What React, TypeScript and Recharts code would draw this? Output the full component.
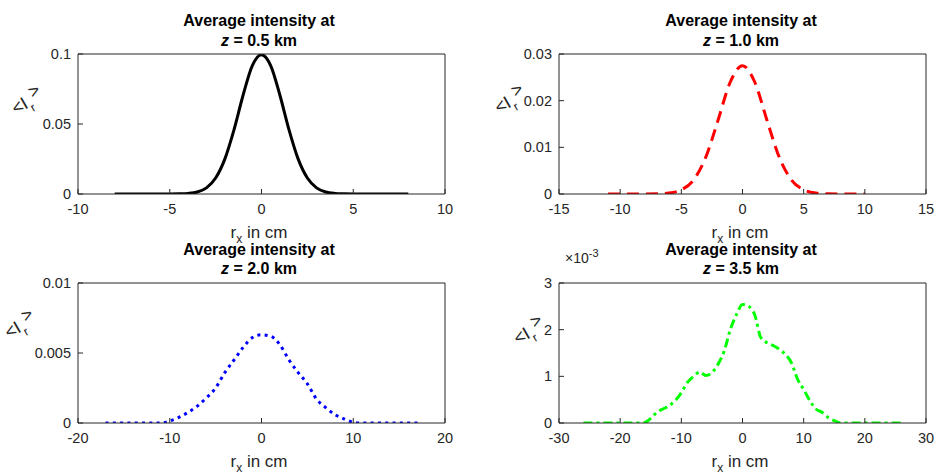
import { LineChart, Line, XAxis, YAxis } from 'recharts'

// panel 1: z = 0.5 km
const x1 = [-8, -7.5, -7, -6.5, -6, -5.5, -5, -4.5, -4, -3.5, -3, -2.5, -2, -1.5, -1, -0.5, 0, 0.5, 1, 1.5, 2, 2.5, 3, 3.5, 4, 4.5, 5, 5.5, 6, 6.5, 7, 7.5, 8]
const y1 = [0, 0, 0, 0, 0, 0, 0, 0.0001, 0.0004, 0.0014, 0.0044, 0.0114, 0.0249, 0.0458, 0.0707, 0.0917, 0.0995, 0.0917, 0.0707, 0.0458, 0.0249, 0.0114, 0.0044, 0.0014, 0.0004, 0.0001, 0, 0, 0, 0, 0, 0, 0]

// panel 2: z = 1.0 km
const x2 = [-11, -10, -9, -8, -7, -6, -5, -4, -3, -2, -1, 0, 1, 2, 3, 4, 5, 6, 7, 8, 9, 10]
const y2 = [0, 0, 0, 0, 0.00003, 0.0002, 0.0009, 0.003, 0.0079, 0.0158, 0.024, 0.0275, 0.024, 0.0158, 0.0079, 0.003, 0.0009, 0.0002, 0.00003, 0, 0, 0]

// panel 3: z = 2.0 km
const x3 = [-17, -16, -15, -14, -13, -12, -11, -10, -9, -8, -7, -6, -5, -4, -3, -2, -1, 0, 1, 2, 3, 4, 5, 6, 7, 8, 9, 10, 11, 12, 13, 14, 15, 16, 17]
const y3 = [0, 0, 0, 0, 0, 0, 0, 0.00015, 0.0004, 0.00076, 0.0012, 0.0018, 0.0025, 0.0036, 0.0045, 0.0054, 0.0061, 0.0063, 0.0062, 0.0056, 0.0045, 0.0036, 0.0028, 0.0017, 0.0011, 0.0006, 0.0003, 0.00005, 0, 0, 0, 0, 0, 0, 0]

// panel 4: z = 3.5 km (values in units of 1e-3)
const x4 = [-26, -25, -24, -23, -22, -21, -20, -19, -18, -17, -16, -15, -14, -13, -12, -11, -10, -9, -8, -7, -6, -5, -4, -3, -2, -1, 0, 1, 2, 3, 4, 5, 6, 7, 8, 9, 10, 11, 12, 13, 14, 15, 16, 17, 18, 19, 20, 21, 22, 23, 24, 25, 26]
const y4 = [0, 0, 0, 0, 0, 0, 0, 0, 0, 0, 0.01, 0.1, 0.23, 0.3, 0.37, 0.48, 0.65, 0.87, 1.0, 1.09, 1.02, 1.08, 1.26, 1.54, 2.0, 2.32, 2.54, 2.5, 2.32, 1.83, 1.72, 1.66, 1.58, 1.47, 1.29, 0.94, 0.72, 0.48, 0.3, 0.23, 0.12, 0.05, 0, 0, 0, 0, 0, 0, 0, 0, 0, 0, 0]

const ticksX1 = [-10, -5, 0, 5, 10]
const ticksX2 = [-15, -10, -5, 0, 5, 10, 15]
const ticksX3 = [-20, -10, 0, 10, 20]
const ticksX4 = [-30, -20, -10, 0, 10, 20, 30]
const ticksY1 = [0, 0.05, 0.1]
const ticksY2 = [0, 0.01, 0.02, 0.03]
const ticksY3 = [0, 0.005, 0.01]
const ticksY4 = [0, 1, 2, 3]

const FONT = '"Liberation Sans", Arial, sans-serif'
const AX = '#262626'

const zip = (xs: number[], ys: number[]) => xs.map((x, i) => ({ x, y: ys[i] }))

interface PanelProps {
    data: { x: number; y: number }[]
    ticksX: number[]
    ticksY: number[]
    color: string
    dash?: string
    left: number
    top: number
    margin: { top: number; left: number; right: number; bottom: number }
}

const Panel = ({ data, ticksX, ticksY, color, dash, left, top, margin }: PanelProps) => {
    const dx: [number, number] = [ticksX[0], ticksX[ticksX.length - 1]]
    const dy: [number, number] = [ticksY[0], ticksY[ticksY.length - 1]]
    const tickStyle = { fill: AX, fontSize: 14.5, fontFamily: FONT }
    return (
        <div style={{ position: 'absolute', left, top }}>
            <LineChart width={468} height={238} data={data} margin={margin}>
                <XAxis
                    dataKey="x"
                    type="number"
                    domain={dx}
                    ticks={ticksX}
                    interval={0}
                    allowDataOverflow
                    height={44}
                    tickSize={-5}
                    tickMargin={15}
                    tick={tickStyle}
                    stroke={AX}
                />
                <XAxis
                    xAxisId="top"
                    orientation="top"
                    dataKey="x"
                    type="number"
                    domain={dx}
                    ticks={ticksX}
                    interval={0}
                    allowDataOverflow
                    height={1}
                    tickSize={-5}
                    tick={false}
                    stroke={AX}
                />
                <YAxis
                    type="number"
                    domain={dy}
                    ticks={ticksY}
                    interval={0}
                    allowDataOverflow
                    width={60}
                    tickSize={-5}
                    tickMargin={12}
                    tick={tickStyle}
                    stroke={AX}
                />
                <YAxis
                    yAxisId="right"
                    orientation="right"
                    type="number"
                    domain={dy}
                    ticks={ticksY}
                    interval={0}
                    allowDataOverflow
                    width={1}
                    tickSize={-5}
                    tick={false}
                    stroke={AX}
                />
                <Line
                    type="monotone"
                    dataKey="y"
                    stroke={color}
                    strokeWidth={3}
                    strokeDasharray={dash}
                    dot={false}
                    activeDot={false}
                    isAnimationActive={false}
                />
            </LineChart>
        </div>
    )
}

const Title = ({ cx, y, z }: { cx: number; y: number; z: string }) => (
    <g fontFamily={FONT} fontSize={16} fontWeight="bold" textAnchor="middle" fill="#000">
        <text x={cx} y={y}>Average intensity at</text>
        <text x={cx} y={y + 19.5}>
            <tspan fontStyle="italic">z</tspan> = {z} km
        </text>
    </g>
)

const XLabel = ({ cx, y }: { cx: number; y: number }) => (
    <text x={cx} y={y} fontFamily={FONT} fontSize={17} fill={AX} textAnchor="middle">
        r<tspan fontSize={12} dy={5}>x</tspan>
        <tspan dy={-5}> in cm</tspan>
    </text>
)

// the rotated <I_r> label, tilted as in the reference
const YLabel = ({ x, y }: { x: number; y: number }) => (
    <text transform={`translate(${x},${y}) rotate(-30)`} fontFamily={FONT} fontSize={18} fill={AX}>
        &lt;I<tspan fontSize={12} dy={6} dx={1}>r</tspan>
        <tspan dy={-12} dx={2}>&gt;</tspan>
    </text>
)

export default function App() {
    return (
        <div style={{ position: 'absolute', left: 0, top: 0, width: 937, height: 476, background: '#fff' }}>
            <Panel data={zip(x1, y1)} ticksX={ticksX1} ticksY={ticksY1} color="#000000" left={0} top={0}
                margin={{ top: 53, left: 18, right: 22, bottom: 0 }} />
            <Panel data={zip(x2, y2)} ticksX={ticksX2} ticksY={ticksY2} color="#ff0000" dash="12 7" left={469} top={0}
                margin={{ top: 53, left: 30, right: 10, bottom: 0 }} />
            <Panel data={zip(x3, y3)} ticksX={ticksX3} ticksY={ticksY3} color="#0000ff" dash="3 4.3" left={0} top={238}
                margin={{ top: 44, left: 18, right: 22, bottom: 9 }} />
            <Panel data={zip(x4, y4)} ticksX={ticksX4} ticksY={ticksY4} color="#00ff00" dash="9 4 3 4" left={469} top={238}
                margin={{ top: 44, left: 30, right: 10, bottom: 9 }} />
            <svg width={937} height={476} style={{ position: 'absolute', left: 0, top: 0, pointerEvents: 'none' }}>
                <Title cx={259} y={26} z="0.5" />
                <Title cx={741} y={26} z="1.0" />
                <Title cx={259} y={254.5} z="2.0" />
                <Title cx={741} y={254.5} z="3.5" />
                <XLabel cx={259} y={237.5} />
                <XLabel cx={740} y={237.5} />
                <XLabel cx={259} y={467} />
                <XLabel cx={740} y={467} />
                <YLabel x={16} y={115} />
                <YLabel x={499} y={114} />
                <YLabel x={9} y={339} />
                <YLabel x={518} y={345} />
                <text x={565} y={263} fontFamily={FONT} fontSize={14} fill={AX}>
                    ×10<tspan fontSize={11} dy={-6}>-3</tspan>
                </text>
            </svg>
        </div>
    )
}
